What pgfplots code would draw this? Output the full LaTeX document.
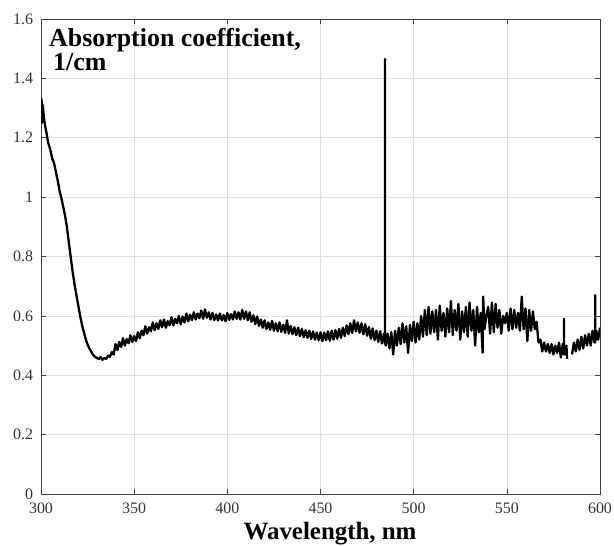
\documentclass[border=0pt]{standalone}
\usepackage{pgfplots}
\pgfplotsset{compat=1.18}
\usepackage{fontspec}
\setmainfont{Liberation Serif}
\begin{document}
\begin{tikzpicture}
\useasboundingbox (-41bp,-52bp) rectangle (573bp,494bp);
\begin{axis}[
  at={(0,0)}, anchor=south west,
  scale only axis, width=559bp, height=475bp,
  xmin=300, xmax=600, ymin=0, ymax=1.6,
  xtick={300,350,400,450,500,550,600},
  ytick={0,0.2,0.4,0.6,0.8,1,1.2,1.4,1.6},
  yticklabels={0,0.2,0.4,0.6,0.8,1,1.2,1.4,1.6},
  xtick pos=both, ytick pos=both,
  tick align=inside,
  major tick length=5bp,
  grid=major,
  major grid style={black!13, line width=0.6bp},
  axis line style={black!75, line width=0.7bp},
  tick style={black!75, line width=0.6bp},
  ticklabel style={font=\fontsize{16}{16}\selectfont, text=black!80},
  yticklabel style={xshift=-4.5bp},
  xticklabel style={yshift=-5bp},
  /pgf/number format/assume math mode=true,
  xlabel={Wavelength, nm},
  xlabel style={font=\bfseries\fontsize{25}{25}\selectfont, at={(axis description cs:0.517,0)}, anchor=base, yshift=-45bp},
  unbounded coords=jump,
]
\addplot[black, line width=2.3bp, line join=round] coordinates {
(300,1.26) (300.3,1.33) (300.6,1.25) (301,1.31) (301.5,1.27) (302,1.25) (302.5,1.23) (303,1.215) (303.5,1.195)
(304,1.18) (305,1.16) (306,1.13) (307,1.115) (308,1.085) (309,1.055) (310,1.02) (311,0.995)
(312,0.965) (313,0.935) (314,0.895) (315,0.845) (316,0.795) (317,0.748) (318,0.706) (319,0.67)
(320,0.635) (321,0.60) (322,0.57) (323,0.545) (324,0.522) (325,0.503) (326,0.49) (327,0.479)
(328,0.468) (329,0.462) (330,0.458) (331,0.455) (332,0.461) (333,0.452) (334,0.458) (335,0.455)
(336,0.466) (337,0.462) (338,0.478) (339,0.47)
(340,0.505) (341,0.485) (342,0.512) (343,0.495) (344,0.525) (345,0.50) (346,0.522) (347,0.508)
(348,0.535) (349,0.512) (350,0.532) (351,0.515) (352,0.545) (353,0.525) (354,0.55) (355,0.535)
(356,0.565) (357,0.54) (358,0.562) (359,0.548) (360,0.578) (361,0.552) (362,0.575) (363,0.556)
(364,0.585) (365,0.562) (366,0.588) (367,0.56) (368,0.582) (369,0.568) (370,0.595) (371,0.568)
(372,0.59) (373,0.575) (374,0.60) (375,0.572) (376,0.598) (377,0.578) (378,0.608) (379,0.582)
(380,0.604) (381,0.586) (382,0.612) (383,0.588) (384,0.608) (385,0.592) (386,0.618) (387,0.59)
(388,0.622) (389,0.594) (390,0.612) (391,0.588) (392,0.61) (393,0.586) (394,0.605) (395,0.584)
(396,0.608) (397,0.585) (398,0.603) (399,0.582) (400,0.61) (401,0.586) (402,0.606) (403,0.588)
(404,0.615) (405,0.59) (406,0.612) (407,0.588) (408,0.62) (409,0.59) (410,0.615) (411,0.585)
(412,0.612) (413,0.58) (414,0.602) (415,0.572) (416,0.598) (417,0.566) (418,0.588) (419,0.56)
(420,0.585) (421,0.556) (422,0.578) (423,0.553) (424,0.583) (425,0.55) (426,0.575) (427,0.548)
(428,0.578) (429,0.546) (430,0.57) (431,0.543) (432,0.585) (433,0.54) (434,0.566) (435,0.538)
(436,0.562) (437,0.535) (438,0.56) (439,0.532) (440,0.556) (441,0.528) (442,0.552) (443,0.526)
(444,0.55) (445,0.522) (446,0.548) (447,0.52) (448,0.544) (449,0.518) (450,0.545) (451,0.515)
(452,0.544) (453,0.518) (454,0.548) (455,0.516) (456,0.55) (457,0.52) (458,0.552) (459,0.523)
(460,0.556) (461,0.526) (462,0.56) (463,0.532) (464,0.568) (465,0.538) (466,0.575) (467,0.542)
(468,0.585) (469,0.548) (470,0.578) (471,0.543) (472,0.575) (473,0.538) (474,0.572) (475,0.533)
(476,0.562) (477,0.523) (478,0.558) (479,0.518) (480,0.55) (481,0.512) (482,0.548) (483,0.507)
(484,0.54) (484.6,0.53) (484.6,1.465) (484.6,0.51) (485,0.50) (486,0.54) (487,0.49) (488,0.545)
(489,0.47) (490,0.55) (491,0.50) (492,0.56) (493,0.505) (494,0.575) (495,0.51) (496,0.565)
(497,0.475) (498,0.57) (499,0.515) (500,0.58) (501,0.51) (502,0.575) (503,0.52) (504,0.60)
(505,0.53) (506,0.62) (507,0.535) (508,0.63) (509,0.54) (510,0.615) (511,0.545) (512,0.62)
(513,0.52) (514,0.635) (515,0.55) (516,0.61) (517,0.53) (518,0.625) (519,0.545) (520,0.65)
(521,0.535) (522,0.62) (523,0.55) (524,0.64) (525,0.52) (526,0.615) (527,0.545) (528,0.63)
(529,0.53) (530,0.645) (531,0.55) (532,0.62) (533,0.50) (534,0.63) (535,0.545) (536,0.61)
(537,0.476) (537.3,0.665) (538,0.555) (539,0.60) (540,0.63) (541,0.54) (542,0.645) (543,0.545)
(544,0.64) (545,0.56) (546,0.62) (547,0.54) (548,0.60) (549,0.575) (550,0.61) (551,0.55)
(552,0.625) (553,0.555) (554,0.62) (555,0.56) (556,0.61) (557,0.55) (558,0.665) (559,0.555)
(560,0.625) (561,0.515) (562,0.62) (563,0.55) (564,0.615) (565,0.555) (566,0.58) (567,0.51)
(568,0.52) (569,0.48) (570,0.51) (571,0.48) (572,0.505) (573,0.475) (574,0.505) (575,0.47)
(576,0.50) (577,0.475) (578,0.51) (579,0.46) (580,0.505) (580.7,0.5) (580.7,0.59) (580.7,0.47) (581,0.47) (582,0.50)
(582.3,0.455) (583,nan)
(585,0.47) (586,0.51) (587,0.48) (588,0.52) (589,0.485) (590,0.53) (591,0.49) (592,0.535)
(593,0.50) (594,0.54) (595,0.50) (596,0.55) (597,0.51) (597.4,0.52) (597.4,0.67) (597.4,0.51) (598,0.55)
(599,0.52) (600,0.56)
};
\node[anchor=base west, inner sep=0pt, font=\bfseries\fontsize{26}{26}\selectfont]
  at (axis description cs:0,1) [xshift=8bp, yshift=-27.7bp] {Absorption coefficient,};
\node[anchor=base west, inner sep=0pt, font=\bfseries\fontsize{26}{26}\selectfont]
  at (axis description cs:0,1) [xshift=12bp, yshift=-51.7bp] {1/cm};
\end{axis}
\end{tikzpicture}
\end{document}
